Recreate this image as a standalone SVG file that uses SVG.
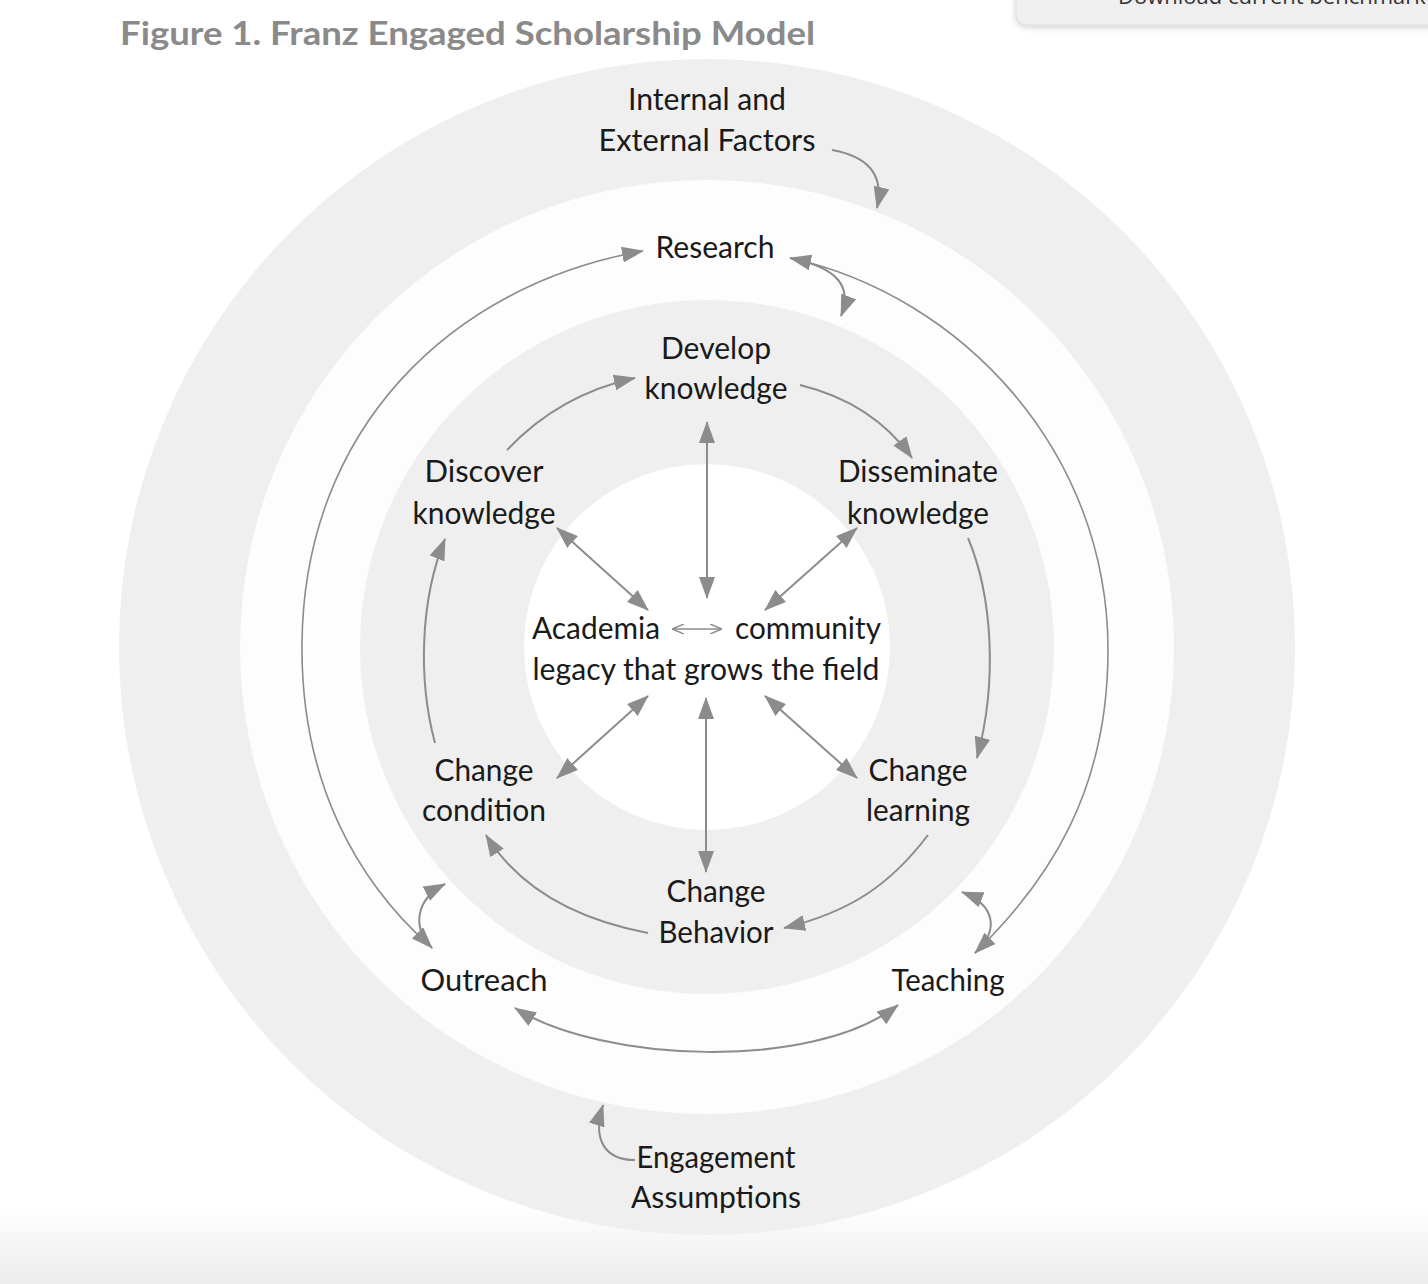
<svg xmlns="http://www.w3.org/2000/svg" width="1428" height="1284" viewBox="0 0 1428 1284">
<style>
.lbl{font-family:Lato,"Liberation Sans",sans-serif;font-size:30px;fill:#1a1a1a;text-anchor:middle}
.title{font-family:Lato,"Liberation Sans",sans-serif;font-size:33px;font-weight:bold;fill:#8a8a8a}
.c{fill:none;stroke:#8c8c8c;stroke-width:2}
.thin{fill:none;stroke:#8c8c8c;stroke-width:1.6}
</style>
<defs>
<marker id="ah" markerUnits="userSpaceOnUse" markerWidth="22" markerHeight="16" refX="21" refY="8" orient="auto-start-reverse">
<path d="M0,0 L22,8 L0,16 z" fill="#8c8c8c"/>
</marker>
<marker id="ahs" markerUnits="userSpaceOnUse" markerWidth="12" markerHeight="10" refX="11" refY="5" orient="auto-start-reverse">
<path d="M0,0 L12,5 L0,10" fill="none" stroke="#8c8c8c" stroke-width="1.5"/>
</marker>
<linearGradient id="bg" x1="0" y1="0" x2="0" y2="1">
<stop offset="0" stop-color="#ffffff"/>
<stop offset="1" stop-color="#ececec"/>
</linearGradient>
<filter id="sh" x="-10%" y="-50%" width="120%" height="200%">
<feDropShadow dx="0" dy="2" stdDeviation="3" flood-color="#000" flood-opacity="0.18"/>
</filter>
</defs>
<rect width="1428" height="1284" fill="#ffffff"/>
<rect x="0" y="1205" width="1428" height="79" fill="url(#bg)"/>
<g id="popup">
<rect x="1016" y="-20" width="440" height="45" rx="10" fill="#efefef" stroke="#dcdcdc" filter="url(#sh)"/>
<text x="1118" y="4" font-family="'Open Sans','Liberation Sans',sans-serif" font-size="22" fill="#333">Download current benchmark</text>
</g>
<g id="rings">
<circle cx="707" cy="647" r="588" fill="#efefef"/>
<circle cx="707" cy="647" r="467" fill="#fdfdfd"/>
<circle cx="707" cy="647" r="347" fill="#efefef"/>
<circle cx="707" cy="647" r="183" fill="#ffffff"/>
</g>
<text class="title" x="120" y="45" textLength="695" lengthAdjust="spacingAndGlyphs">Figure 1. Franz Engaged Scholarship Model</text>
<g id="connectors">
<path class="c" d="M832 150 C865 156 885 172 877 208" marker-end="url(#ah)"/>
<path class="thin" d="M432 948 C355 880 301 780 302 645 C303 430 450 285 643 251" marker-end="url(#ah)"/>
<path class="thin" d="M790 258 C960 295 1108 450 1108 650 C1108 790 1050 880 975 953" marker-start="url(#ah)" marker-end="url(#ah)"/>
<path class="c" d="M790 258 C840 268 852 288 841 316" marker-end="url(#ah)"/>
<path class="c" d="M432 948 C410 925 418 898 445 884" marker-start="url(#ah)" marker-end="url(#ah)"/>
<path class="c" d="M975 953 C1000 930 995 905 962 892" marker-end="url(#ah)"/>
<path class="c" d="M515 1008 C600 1062 812 1072 898 1005" marker-start="url(#ah)" marker-end="url(#ah)"/>
<path class="c" d="M635 1160 C605 1160 592 1140 603 1105" marker-end="url(#ah)"/>
<path class="c" d="M507 450 C540 415 580 390 635 378" marker-end="url(#ah)"/>
<path class="c" d="M800 385 C845 396 885 420 912 458" marker-end="url(#ah)"/>
<path class="c" d="M968 538 C992 595 998 680 977 758" marker-end="url(#ah)"/>
<path class="c" d="M928 835 C890 885 850 912 784 928" marker-end="url(#ah)"/>
<path class="c" d="M648 933 C580 920 520 890 486 835" marker-end="url(#ah)"/>
<path class="c" d="M435 743 C418 680 420 600 445 539" marker-end="url(#ah)"/>
<path class="c" d="M707 422 L707 598" marker-start="url(#ah)" marker-end="url(#ah)"/>
<path class="c" d="M557 528 L648 610" marker-start="url(#ah)" marker-end="url(#ah)"/>
<path class="c" d="M857 528 L765 610" marker-start="url(#ah)" marker-end="url(#ah)"/>
<path class="c" d="M648 696 L557 778" marker-start="url(#ah)" marker-end="url(#ah)"/>
<path class="c" d="M765 696 L857 778" marker-start="url(#ah)" marker-end="url(#ah)"/>
<path class="c" d="M706 698 L706 872" marker-start="url(#ah)" marker-end="url(#ah)"/>
<path class="thin" d="M673 629 L721 629" marker-start="url(#ahs)" marker-end="url(#ahs)"/>
</g>
<g id="factors"><text class="lbl" x="707" y="110" textLength="158" lengthAdjust="spacingAndGlyphs">Internal and</text><text class="lbl" x="707" y="151" textLength="217" lengthAdjust="spacingAndGlyphs">External Factors</text></g>
<g id="research"><text class="lbl" x="715" y="258" textLength="119" lengthAdjust="spacingAndGlyphs">Research</text></g>
<g id="develop"><text class="lbl" x="716" y="359" textLength="110" lengthAdjust="spacingAndGlyphs">Develop</text><text class="lbl" x="716" y="399" textLength="143" lengthAdjust="spacingAndGlyphs">knowledge</text></g>
<g id="discover"><text class="lbl" x="484" y="482" textLength="119" lengthAdjust="spacingAndGlyphs">Discover</text><text class="lbl" x="484" y="524" textLength="143" lengthAdjust="spacingAndGlyphs">knowledge</text></g>
<g id="disseminate"><text class="lbl" x="918" y="482" textLength="160" lengthAdjust="spacingAndGlyphs">Disseminate</text><text class="lbl" x="918" y="524" textLength="142" lengthAdjust="spacingAndGlyphs">knowledge</text></g>
<g id="center"><text class="lbl" x="596" y="639" textLength="128" lengthAdjust="spacingAndGlyphs">Academia</text><text class="lbl" x="808" y="639" textLength="146" lengthAdjust="spacingAndGlyphs">community</text><text class="lbl" x="706" y="680" textLength="347" lengthAdjust="spacingAndGlyphs">legacy that grows the field</text></g>
<g id="condition"><text class="lbl" x="484" y="781" textLength="99" lengthAdjust="spacingAndGlyphs">Change</text><text class="lbl" x="484" y="821" textLength="124" lengthAdjust="spacingAndGlyphs">condition</text></g>
<g id="learning"><text class="lbl" x="918" y="781" textLength="99" lengthAdjust="spacingAndGlyphs">Change</text><text class="lbl" x="918" y="821" textLength="104" lengthAdjust="spacingAndGlyphs">learning</text></g>
<g id="behavior"><text class="lbl" x="716" y="902" textLength="99" lengthAdjust="spacingAndGlyphs">Change</text><text class="lbl" x="716" y="943" textLength="115" lengthAdjust="spacingAndGlyphs">Behavior</text></g>
<g id="outreach"><text class="lbl" x="484" y="991" textLength="127" lengthAdjust="spacingAndGlyphs">Outreach</text></g>
<g id="teaching"><text class="lbl" x="948" y="991" textLength="113" lengthAdjust="spacingAndGlyphs">Teaching</text></g>
<g id="assumptions"><text class="lbl" x="716" y="1168" textLength="159" lengthAdjust="spacingAndGlyphs">Engagement</text><text class="lbl" x="716" y="1208" textLength="170" lengthAdjust="spacingAndGlyphs">Assumptions</text></g>
</svg>
